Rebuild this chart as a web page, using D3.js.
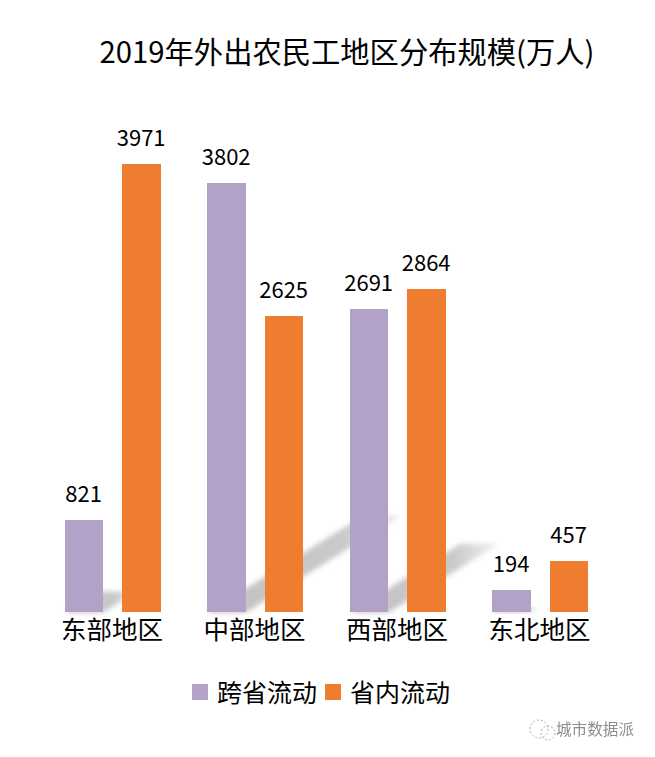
<!DOCTYPE html>
<html>
<head>
<meta charset="utf-8">
<script src="https://cdn.jsdelivr.net/npm/d3@7"></script>
<style>
  html, body { margin: 0; padding: 0; background: #fff; }
  svg { display: block; }
  text { font-family: "Noto Sans CJK SC", "Noto Sans", sans-serif; fill: #000; }
</style>
</head>
<body>
<script>
var w = 655;
var h = 757;

var categories = ['东部地区', '中部地区', '西部地区', '东北地区'];
var seriesNames = ['跨省流动', '省内流动'];
var seriesColors = ['#b3a2c7', '#ef7d2f'];
var crossProvince = [821, 3802, 2691, 194];
var withinProvince = [3971, 2625, 2864, 457];
var seriesValues = [crossProvince, withinProvince];

var x0 = d3.scaleBand().domain(categories).range([41.65, 611.65]).paddingInner(0.3263).paddingOuter(0.16315);
var x1 = d3.scaleBand().domain(seriesNames).range([0, x0.bandwidth()]).paddingInner(0.33);
var y = d3.scaleLinear().domain([0, 3971]).range([612.4, 164]);

var svg = d3.select('body')
  .append('svg')
  .attr('width', w)
  .attr('height', h);

svg.append('rect')
  .attr('width', w)
  .attr('height', h)
  .attr('fill', '#fff');

var defs = svg.append('defs');
defs.append('filter')
  .attr('id', 'soft')
  .attr('x', '-20%').attr('y', '-20%').attr('width', '140%').attr('height', '140%')
  .append('feGaussianBlur')
  .attr('stdDeviation', 2.6);

var fade = defs.append('linearGradient').attr('id', 'fade');
fade.append('stop').attr('offset', '0%').attr('stop-color', '#bdbdbd').attr('stop-opacity', 0.95);
fade.append('stop').attr('offset', '70%').attr('stop-color', '#c4c4c4').attr('stop-opacity', 0.9);
fade.append('stop').attr('offset', '100%').attr('stop-color', '#d0d0d0').attr('stop-opacity', 0.35);

svg.append('text')
  .attr('x', 347)
  .attr('y', 63)
  .attr('text-anchor', 'middle')
  .style('font-size', '29.3px')
  .text('2019年外出农民工地区分布规模(万人)');

// shadow cast by the purple bars, length follows bar height
var shadow = svg.append('g');
crossProvince.forEach(function (v, i) {
  var left = x0(categories[i]) + x1(seriesNames[0]);
  var right = left + x1.bandwidth();
  var barH = y(0) - y(v);
  var dx = barH * 0.364;
  var dy = barH * 0.226;
  shadow.append('path')
    .attr('d', d3.line()([[left, y(0)], [right, y(0)], [right + dx, y(0) - dy], [left + dx, y(0) - dy]]) + 'Z')
    .attr('fill', 'url(#fade)')
    .attr('filter', 'url(#soft)');
});

var bars = svg.append('g');
seriesNames.forEach(function (name, s) {
  bars.selectAll('rect.s' + s)
    .data(seriesValues[s])
    .enter()
    .append('rect')
    .attr('class', 's' + s)
    .attr('x', function (d, i) { return x0(categories[i]) + x1(name); })
    .attr('y', function (d) { return y(d); })
    .attr('width', x1.bandwidth())
    .attr('height', function (d) { return y(0) - y(d); })
    .attr('fill', seriesColors[s])
    .attr('shape-rendering', 'crispEdges');

  bars.selectAll('text.s' + s)
    .data(seriesValues[s])
    .enter()
    .append('text')
    .attr('class', 's' + s)
    .attr('x', function (d, i) { return x0(categories[i]) + x1(name) + x1.bandwidth() / 2 - 0.5; })
    .attr('y', function (d) { return y(d) - 18; })
    .attr('text-anchor', 'middle')
    .style('font-size', '22px')
    .text(function (d) { return d; });
});

var axis = svg.append('g')
  .attr('transform', 'translate(-1,612)')
  .call(d3.axisBottom(x0).tickSize(0).tickPadding(9));
axis.select('.domain').remove();
axis.selectAll('text')
  .style('font-size', '25.5px')
  .attr('fill', '#000');

// legend
var legendX = [192, 325];
var legend = svg.append('g');
seriesNames.forEach(function (name, i) {
  legend.append('rect')
    .attr('x', legendX[i])
    .attr('y', 684)
    .attr('width', 16)
    .attr('height', 16)
    .attr('fill', seriesColors[i]);
  legend.append('text')
    .attr('x', legendX[i] + 25)
    .attr('y', 702)
    .style('font-size', '25px')
    .text(name);
});

// watermark
var mark = svg.append('g').attr('opacity', 0.75);
var bubbles = [[539, 729, 9], [548, 733, 7]];
mark.selectAll('circle')
  .data(bubbles)
  .enter()
  .append('circle')
  .attr('cx', function (d) { return d[0]; })
  .attr('cy', function (d) { return d[1]; })
  .attr('r', function (d) { return d[2]; })
  .attr('fill', 'none')
  .attr('stroke', '#777')
  .attr('stroke-width', 0.8)
  .attr('stroke-dasharray', '2 2');
mark.append('text')
  .attr('x', 556)
  .attr('y', 735)
  .style('font-size', '15.6px')
  .style('fill', '#666')
  .text('城市数据派');
</script>
</body>
</html>
